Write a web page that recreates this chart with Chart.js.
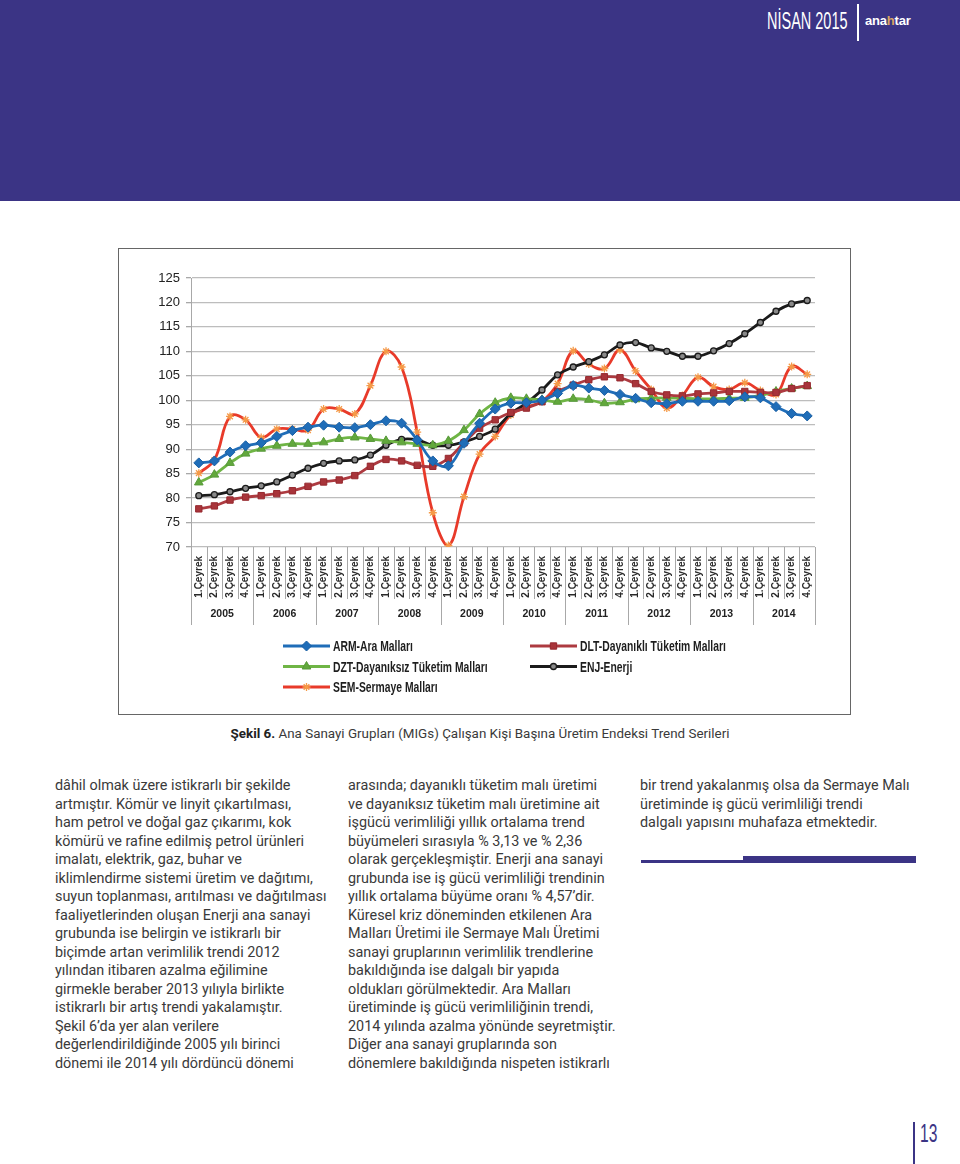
<!DOCTYPE html>
<html lang="tr">
<head>
<meta charset="utf-8">
<script src="https://cdn.jsdelivr.net/npm/chart.js@4.4.1/dist/chart.umd.min.js"></script>
<style>
  html, body { margin: 0; padding: 0; background: #fff; }
  body { width: 960px; height: 1164px; position: relative; overflow: hidden; font-family: Roboto, "Open Sans", sans-serif; color: #3a3a3a; }
  .band { position: absolute; left: 0; top: 0; width: 960px; height: 201px; background: #3b3485; }
  .issue { position: absolute; left: 767px; top: 10px; color: #fff; font-family: "Liberation Sans", Arial, sans-serif; font-size: 23px; line-height: 1; white-space: nowrap; transform: scaleX(0.63); transform-origin: 0 0; }
  .vsep { position: absolute; left: 857px; top: 4px; width: 2px; height: 37px; background: #fff; }
  .logo { position: absolute; left: 865px; top: 13px; color: #fff; font-family: "Liberation Sans", Arial, sans-serif; font-weight: bold; font-size: 13px; letter-spacing: -0.2px; }
  .logo span { color: #d8a560; }
  .chartbox { position: absolute; left: 118px; top: 248px; width: 731px; height: 465px; border: 1px solid #666; background: #fff; }
  .caption { position: absolute; left: 0; width: 960px; top: 725px; text-align: center; font-size: 13.4px; line-height: 18px; color: #3a3a3a; }
  .caption b { color: #222; }
  .col { position: absolute; top: 777px; font-size: 14.4px; line-height: 18.5px; white-space: nowrap; color: #3a3a3a; }
  .rule-thin { position: absolute; left: 641px; top: 860px; width: 104px; height: 3px; background: #3b3485; }
  .rule-thick { position: absolute; left: 743px; top: 856px; width: 173px; height: 7px; background: #3b3485; }
  .pline { position: absolute; left: 913px; top: 1122px; width: 2px; height: 42px; background: #3b3485; }
  .pnum { position: absolute; left: 920px; top: 1118px; color: #3b3485; font-family: "Liberation Sans", Arial, sans-serif; font-size: 26px; white-space: nowrap; transform: scaleX(0.6); transform-origin: 0 0; }
</style>
</head>
<body>
<div class="band"></div>
<div class="issue">NİSAN 2015</div>
<div class="vsep"></div>
<div class="logo">ana<span>h</span>tar</div>

<div class="chartbox"><canvas id="chart" width="731" height="465"></canvas></div>

<div class="caption"><b>Şekil 6.</b> Ana Sanayi Grupları (MIGs) Çalışan Kişi Başına Üretim Endeksi Trend Serileri</div>

<div class="col" style="left:55px">dâhil olmak üzere istikrarlı bir şekilde<br>artmıştır. Kömür ve linyit çıkartılması,<br>ham petrol ve doğal gaz çıkarımı, kok<br>kömürü ve rafine edilmiş petrol ürünleri<br>imalatı, elektrik, gaz, buhar ve<br>iklimlendirme sistemi üretim ve dağıtımı,<br>suyun toplanması, arıtılması ve dağıtılması<br>faaliyetlerinden oluşan Enerji ana sanayi<br>grubunda ise belirgin ve istikrarlı bir<br>biçimde artan verimlilik trendi 2012<br>yılından itibaren azalma eğilimine<br>girmekle beraber 2013 yılıyla birlikte<br>istikrarlı bir artış trendi yakalamıştır.<br>Şekil 6’da yer alan verilere<br>değerlendirildiğinde 2005 yılı birinci<br>dönemi ile 2014 yılı dördüncü dönemi</div>

<div class="col" style="left:348px">arasında; dayanıklı tüketim malı üretimi<br>ve dayanıksız tüketim malı üretimine ait<br>işgücü verimliliği yıllık ortalama trend<br>büyümeleri sırasıyla % 3,13 ve % 2,36<br>olarak gerçekleşmiştir. Enerji ana sanayi<br>grubunda ise iş gücü verimliliği trendinin<br>yıllık ortalama büyüme oranı % 4,57’dir.<br>Küresel kriz döneminden etkilenen Ara<br>Malları Üretimi ile Sermaye Malı Üretimi<br>sanayi gruplarının verimlilik trendlerine<br>bakıldığında ise dalgalı bir yapıda<br>oldukları görülmektedir. Ara Malları<br>üretiminde iş gücü verimliliğinin trendi,<br>2014 yılında azalma yönünde seyretmiştir.<br>Diğer ana sanayi gruplarında son<br>dönemlere bakıldığında nispeten istikrarlı</div>

<div class="col" style="left:640px">bir trend yakalanmış olsa da Sermaye Malı<br>üretiminde iş gücü verimliliği trendi<br>dalgalı yapısını muhafaza etmektedir.</div>

<div class="rule-thin"></div>
<div class="rule-thick"></div>
<div class="pline"></div>
<div class="pnum">13</div>

<script>
  // tick labels
  const years = ["2005", "2006", "2007", "2008", "2009", "2010", "2011", "2012", "2013", "2014"];
  const quarterLabels = ["1.Çeyrek", "2.Çeyrek", "3.Çeyrek", "4.Çeyrek"];
  const categories = years.flatMap(() => quarterLabels);

  // series, one value per quarter 2005Q1 .. 2014Q4
  const arm = [87.2, 87.6, 89.4, 90.7, 91.3, 92.6, 93.8, 94.5, 94.9, 94.5, 94.4, 95.0, 95.8, 95.3, 91.9, 87.6, 86.6, 91.2, 95.3, 98.2,
               99.4, 99.5, 100.0, 101.4, 103.0, 102.5, 102.0, 101.2, 100.4, 99.5, 99.3, 99.8, 99.8, 99.8, 99.9, 100.7, 100.5, 98.7, 97.3, 96.8];
  const dlt = [77.8, 78.4, 79.6, 80.2, 80.5, 80.9, 81.5, 82.4, 83.3, 83.7, 84.6, 86.5, 87.9, 87.6, 86.7, 86.5, 88.1, 91.3, 94.3, 96.0,
               97.5, 98.4, 99.7, 101.8, 103.1, 104.2, 104.8, 104.6, 103.4, 101.8, 101.1, 100.9, 101.3, 101.5, 101.8, 101.8, 101.6, 101.6, 102.4, 103.0];
  const dzt = [83.2, 84.8, 87.2, 89.1, 90.1, 90.7, 91.1, 91.1, 91.4, 92.1, 92.4, 92.1, 91.7, 91.4, 91.1, 90.8, 91.7, 93.9, 97.2, 99.5,
               100.5, 100.3, 100.1, 99.7, 100.3, 100.1, 99.4, 99.6, 100.2, 100.4, 100.5, 100.4, 100.3, 100.3, 100.4, 100.5, 101.0, 101.8, 102.4, 102.9];
  const enj = [80.5, 80.7, 81.3, 82.0, 82.5, 83.3, 84.7, 86.1, 87.1, 87.6, 87.8, 88.8, 90.8, 92.0, 91.9, 90.8, 90.8, 91.5, 92.6, 94.1,
               97.3, 99.4, 102.1, 105.2, 106.8, 107.9, 109.3, 111.3, 111.8, 110.7, 110.0, 109.0, 109.0, 110.1, 111.6, 113.6, 115.9, 118.2, 119.7, 120.4];
  const sem = [85.1, 87.8, 96.7, 96.0, 92.4, 94.1, 94.1, 93.9, 98.2, 98.2, 97.2, 103.0, 110.0, 106.8, 93.5, 77.0, 70.3, 80.3, 89.0, 92.6,
               97.0, 98.6, 99.8, 103.4, 110.1, 107.4, 106.5, 110.3, 106.0, 102.2, 98.4, 101.0, 104.7, 102.8, 102.2, 103.6, 102.0, 101.2, 106.9, 105.3];

  const yTicks = { min: 70, max: 125, step: 5 };

  const sans = "'Liberation Sans', Arial, sans-serif";

  // lines between quarters and years under the x axis
  const separators = {
    id: "separators",
    afterDraw(chart) {
      const xs = chart.scales.x, ys = chart.scales.years;
      const ctx = chart.ctx;
      const step = xs.width / categories.length;
      ctx.save();
      ctx.strokeStyle = "#a8a8a8";
      ctx.lineWidth = 1;
      for (let i = 0; i <= categories.length; i++) {
        const px = Math.round(xs.left + i * step) + 0.5;
        ctx.beginPath();
        ctx.moveTo(px, xs.top);
        ctx.lineTo(px, i % quarterLabels.length === 0 ? ys.bottom : xs.bottom);
        ctx.stroke();
      }
      ctx.restore();
    }
  };

  // two-column legend like the original
  const gridLegend = {
    id: "gridLegend",
    afterDraw(chart) {
      const ctx = chart.ctx;
      const area = chart.chartArea;
      const top = chart.scales.years.bottom + 21;
      ctx.save();
      chart.data.datasets.forEach((ds, i) => {
        const col = i % 2, row = Math.floor(i / 2);
        const x0 = area.left + 92 + col * 247;
        const y = top + row * 20.5;
        ctx.strokeStyle = ds.borderColor;
        ctx.lineWidth = 3;
        ctx.beginPath();
        ctx.moveTo(x0, y);
        ctx.lineTo(x0 + 47, y);
        ctx.stroke();
        ctx.fillStyle = ds.pointBackgroundColor;
        ctx.strokeStyle = ds.pointBorderColor;
        ctx.lineWidth = ds.pointBorderWidth;
        Chart.helpers.drawPoint(ctx, { pointStyle: ds.pointStyle, radius: ds.pointRadius, rotation: 0, borderWidth: ds.pointBorderWidth }, x0 + 23.5, y);
        // narrow the text like the condensed original font
        ctx.save();
        ctx.translate(x0 + 50, y + 1);
        ctx.scale(0.69, 1);
        ctx.fillStyle = "#1e1e1e";
        ctx.font = "bold 15px " + sans;
        ctx.textBaseline = "middle";
        ctx.fillText(ds.label, 0, 0);
        ctx.restore();
      });
      ctx.restore();
    }
  };

  const datasets = [
    { label: "ARM-Ara Malları", data: arm, borderColor: "#1f6db8", pointStyle: "rectRot", pointRadius: 5,
      pointBackgroundColor: "#1f6db8", pointBorderColor: "#1a5fa3", pointBorderWidth: 1 },
    { label: "DLT-Dayanıklı Tüketim Malları", data: dlt, borderColor: "#ad3a40", pointStyle: "rect", pointRadius: 4.5,
      pointBackgroundColor: "#a8343a", pointBorderColor: "#96292f", pointBorderWidth: 1 },
    { label: "DZT-Dayanıksız Tüketim Malları", data: dzt, borderColor: "#6fb545", pointStyle: "triangle", pointRadius: 5,
      pointBackgroundColor: "#62a83c", pointBorderColor: "#57993a", pointBorderWidth: 1 },
    { label: "ENJ-Enerji", data: enj, borderColor: "#1b1b1b", pointStyle: "circle", pointRadius: 3,
      pointBackgroundColor: "#8a8a8a", pointBorderColor: "#1b1b1b", pointBorderWidth: 1.3 },
    { label: "SEM-Sermaye Malları", data: sem, borderColor: "#e83a2a", pointStyle: "star", pointRadius: 4,
      pointBackgroundColor: "#f5a25a", pointBorderColor: "#f59a48", pointBorderWidth: 1.3 }
  ];
  datasets.forEach(ds => { ds.borderWidth = 2.8; ds.tension = 0.4; ds.fill = false; ds.pointHoverRadius = ds.pointRadius; });

  const ctx = document.getElementById("chart").getContext("2d");
  new Chart(ctx, {
    type: "line",
    data: { labels: categories, datasets: datasets },
    options: {
      responsive: false,
      animation: false,
      layout: { padding: { left: 32, top: 29, right: 35, bottom: 89 } },
      plugins: { legend: { display: false }, tooltip: { enabled: false } },
      scales: {
        y: {
          min: yTicks.min, max: yTicks.max,
          afterFit: s => { s.width = 40; },
          ticks: { stepSize: yTicks.step, padding: 6, color: "#222", font: { family: sans, size: 13 } },
          grid: { color: "#bdbdbd", lineWidth: 1.3, tickLength: 5, tickColor: "#a8a8a8" },
          border: { color: "#a8a8a8", width: 1 }
        },
        x: {
          offset: true,
          afterFit: s => { s.height = 52; },
          grid: { display: false },
          border: { display: false },
          ticks: { autoSkip: false, minRotation: 90, maxRotation: 90, padding: 1, color: "#2a2a2a",
                   font: { family: sans, size: 10, weight: "bold" } }
        },
        years: {
          type: "category", labels: years, position: "bottom", offset: true,
          afterFit: s => { s.height = 26; },
          grid: { display: false },
          border: { display: false },
          ticks: { padding: 1, color: "#222", font: { family: sans, size: 10.5, weight: "bold" } }
        }
      }
    },
    plugins: [separators, gridLegend]
  });
</script>
</body>
</html>
